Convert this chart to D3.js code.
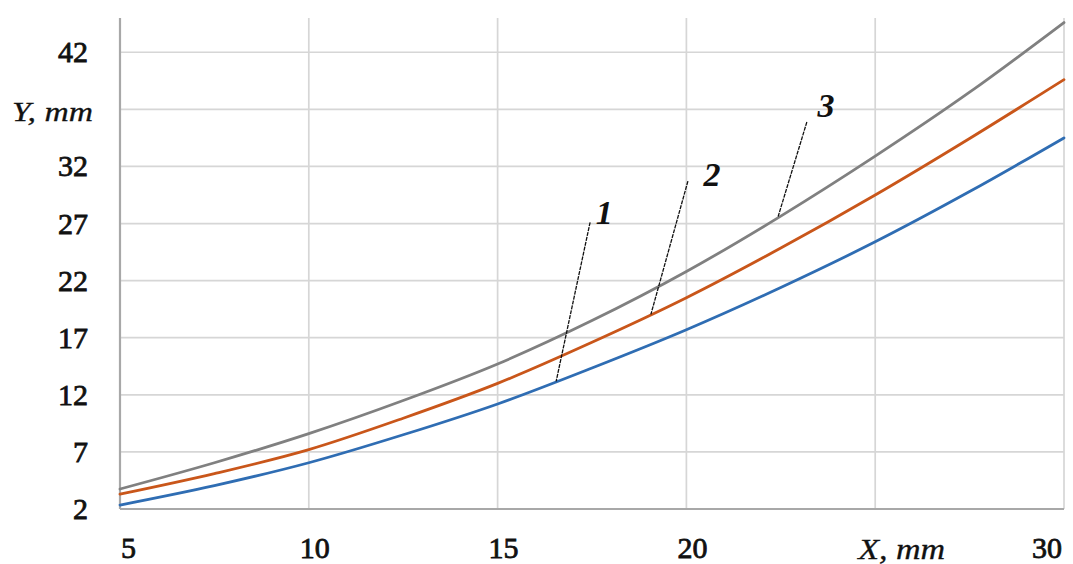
<!DOCTYPE html>
<html>
<head>
<meta charset="utf-8">
<script src="https://cdn.jsdelivr.net/npm/d3@7/dist/d3.min.js"></script>
<style>
  html, body { margin: 0; padding: 0; background: #fff; }
  svg { display: block; }
  text { font-family: "Liberation Serif", "Times New Roman", serif; fill: #111; }
</style>
</head>
<body>
<svg id="chart" width="1073" height="564"></svg>
<script>
// ---- data ----
const xValues = [5, 7.5, 10, 12.5, 15, 17.5, 20, 22.5, 25, 27.5, 30];
const curve1 = [2.35, 4.05, 6.05, 8.5, 11.2, 14.35, 17.7, 21.4, 25.4, 29.8, 34.5];   // blue
const curve2 = [3.3, 5.1, 7.2, 9.95, 13.0, 16.6, 20.5, 24.85, 29.5, 34.45, 39.6];   // orange
const curve3 = [3.75, 6.05, 8.6, 11.5, 14.7, 18.5, 22.8, 27.65, 32.9, 38.5, 44.6];   // gray
const seriesNames = ["1", "2", "3"];
const seriesColors = ["#2f6db3", "#c9561a", "#808080"];

const xTicks = [5, 10, 15, 20, 25, 30];
const xTickLabels = ["5", "10", "15", "20", "", "30"];
const yTicks = [2, 7, 12, 17, 22, 27, 32, 37, 42];
const yTickLabels = ["2", "7", "12", "17", "22", "27", "32", "", "42"];
const xTitle = "X, mm";
const yTitle = "Y, mm";

// annotation leaders (data units)
const annLabel = ["1", "2", "3"];
const annTopX = [17.45, 20.04, 23.19];
const annTopY = [27.11, 30.71, 35.89];
const annEndX = [16.55, 19.06, 22.43];
const annEndY = [13.17, 19.05, 27.62];
const annTextX = [17.6, 20.45, 23.47];
const annTextY = [27.0, 30.25, 36.3];

// ---- layout ----
const svg = d3.select("#chart");
const pLeft = 120, pRight = 1064, pTop = 18, pBottom = 509;

const x = d3.scaleLinear().domain([5, 30]).range([pLeft, pRight]);
const y = d3.scaleLinear().domain([2, 45]).range([pBottom, pTop]);

// gridlines
const grid = svg.append("g");
grid.selectAll("line.h").data(yTicks.filter(d => d !== 2)).enter().append("line")
  .attr("x1", pLeft).attr("x2", pRight)
  .attr("y1", d => y(d)).attr("y2", d => y(d))
  .attr("stroke", "#d6d6d6").attr("stroke-width", 1.7);
grid.selectAll("line.v").data(xTicks.filter(d => d !== 5)).enter().append("line")
  .attr("x1", d => x(d)).attr("x2", d => x(d))
  .attr("y1", y(2)).attr("y2", y(45))
  .attr("stroke", "#d6d6d6").attr("stroke-width", 1.7);

// axes lines
svg.append("line").attr("x1", x(5)).attr("x2", x(5)).attr("y1", y(2)).attr("y2", y(45))
  .attr("stroke", "#a8a8a8").attr("stroke-width", 2.2);
svg.append("line").attr("x1", x(5)).attr("x2", x(30)).attr("y1", y(2)).attr("y2", y(2))
  .attr("stroke", "#a8a8a8").attr("stroke-width", 2.2);

// curves
const allSeries = [curve1, curve2, curve3];
const line = d3.line()
  .x((d, i) => x(xValues[i]))
  .y(d => y(d))
  .curve(d3.curveMonotoneX);
svg.append("g").selectAll("path").data(allSeries).enter().append("path")
  .attr("d", d => line(d))
  .attr("fill", "none")
  .attr("stroke", (d, i) => seriesColors[i])
  .attr("stroke-width", 2.8)
  .attr("stroke-linecap", "round");

// y tick labels
svg.append("g").selectAll("text").data(yTicks).enter().append("text")
  .attr("x", 88).attr("y", d => y(d) + 10)
  .attr("text-anchor", "end")
  .attr("font-size", 30)
  .attr("stroke", "#111").attr("stroke-width", 0.8)
  .text((d, i) => yTickLabels[i]);

// x tick labels
svg.append("g").selectAll("text").data(xTicks).enter().append("text")
  .attr("x", d => x(d))
  .attr("y", 558)
  .attr("text-anchor", (d, i) => i === 0 ? "start" : (i === xTicks.length - 1 ? "end" : "middle"))
  .attr("dx", (d, i) => i === 0 ? 1 : (i === xTicks.length - 1 ? -2 : 6))
  .attr("font-size", 30)
  .attr("stroke", "#111").attr("stroke-width", 0.8)
  .text((d, i) => xTickLabels[i]);

// axis titles
svg.append("text")
  .attr("x", 93).attr("y", y(37) + 12)
  .attr("text-anchor", "end")
  .attr("font-size", 27).attr("font-style", "italic")
  .attr("stroke", "#111").attr("stroke-width", 0.3)
  .attr("textLength", 81).attr("lengthAdjust", "spacingAndGlyphs")
  .text(yTitle);
svg.append("text")
  .attr("x", x(25) - 17).attr("y", 559)
  .attr("text-anchor", "start")
  .attr("font-size", 29).attr("font-style", "italic")
  .attr("stroke", "#111").attr("stroke-width", 0.3)
  .attr("textLength", 87).attr("lengthAdjust", "spacingAndGlyphs")
  .text(xTitle);

// annotations
const ann = svg.append("g");
ann.selectAll("line").data(annLabel).enter().append("line")
  .attr("x1", (d, i) => x(annTopX[i])).attr("y1", (d, i) => y(annTopY[i]))
  .attr("x2", (d, i) => x(annEndX[i])).attr("y2", (d, i) => y(annEndY[i]))
  .attr("stroke", "#111").attr("stroke-width", 1.3)
  .attr("stroke-dasharray", "4,1");
ann.selectAll("text").data(annLabel).enter().append("text")
  .attr("x", (d, i) => x(annTextX[i])).attr("y", (d, i) => y(annTextY[i]))
  .attr("font-size", 34).attr("font-style", "italic").attr("font-weight", "bold")
  .text(d => d);
</script>
</body>
</html>
